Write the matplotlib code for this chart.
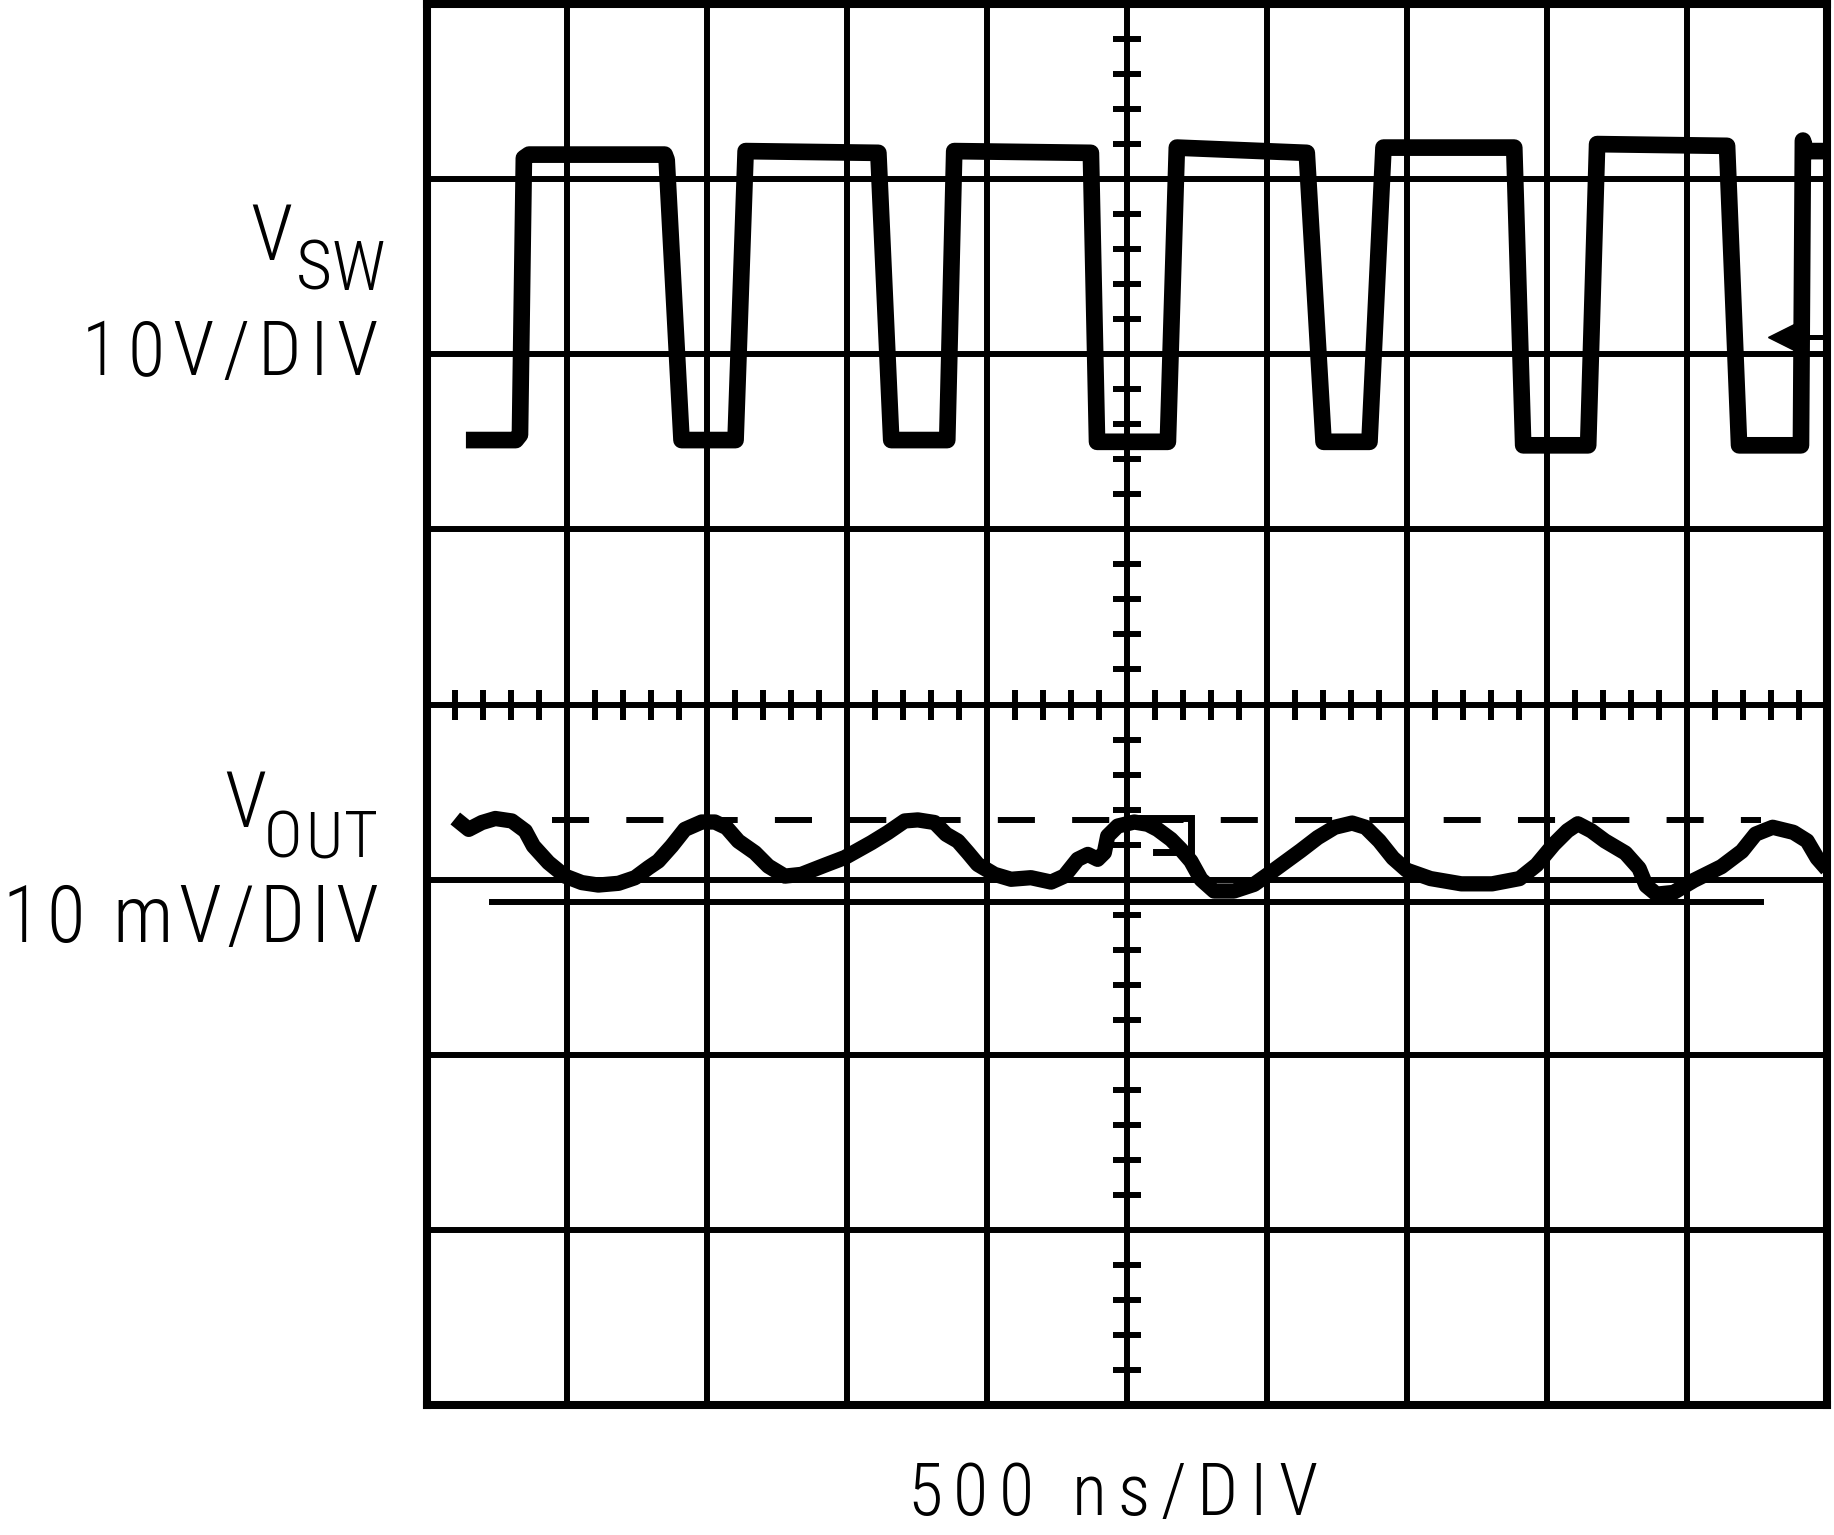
import matplotlib
matplotlib.use('Agg')
import matplotlib.pyplot as plt
from matplotlib import font_manager
import numpy as np

W, H, DPI = 1834, 1535, 100

# screen: 10 x 8 divisions, 500 ns/DIV
t_per_div = 500
n_xdiv, n_ydiv = 10, 8

# V_SW trace, 10 V/DIV (time in ns, volts)
vsw_t = [139, 317, 332, 346, 364, 849, 856, 909, 1102, 1138, 1612, 1658,
         1858, 1883, 2371, 2393, 2646, 2678, 3142, 3202, 3366, 3416, 3883, 3915,
         4147, 4179, 4643, 4686, 4907, 4914, 4925, 5000]
vsw_v = [0.1, 0.1, 0.4, 16.2, 16.4, 16.4, 16.1, 0.1, 0.1, 16.6, 16.5, 0.1,
         0.1, 16.6, 16.5, 0.0, 0.0, 16.8, 16.5, 0.0, 0.0, 16.8, 16.8, -0.2,
         -0.2, 17.0, 16.9, -0.2, -0.2, 17.2, 16.6, 16.6]
vsw_volts_per_div = 10
vsw_ground_div = 5.5
trigger_level_v = 6.0
trigger_t = 4840

# V_OUT ripple, 10 mV/DIV (time in ns, mV)
vout_t = [101, 149, 196, 244, 303, 351, 380, 434, 493, 553,
          612, 684, 743, 791, 826, 874, 921, 981, 1028, 1070,
          1112, 1171, 1219, 1278, 1337, 1420, 1492, 1587, 1646, 1706,
          1753, 1813, 1854, 1896, 1932, 1967, 2027, 2086, 2157, 2229,
          2276, 2324, 2360, 2395, 2419, 2431, 2467, 2526, 2574, 2609,
          2657, 2692, 2728, 2764, 2811, 2882, 2954, 3013, 3120, 3181,
          3242, 3304, 3352, 3401, 3450, 3499, 3584, 3694, 3804, 3902,
          3963, 4024, 4073, 4110, 4158, 4207, 4280, 4329, 4354, 4391,
          4452, 4525, 4623, 4696, 4745, 4806, 4880, 4929, 4965, 5000]
vout_mv = [4.79, 4.17, 4.56, 4.79, 4.65, 4.08, 3.22, 2.27, 1.50, 1.13,
           0.99, 1.09, 1.41, 1.98, 2.36, 3.22, 4.17, 4.59, 4.59, 4.27,
           3.50, 2.84, 2.07, 1.50, 1.60, 2.12, 2.56, 3.41, 3.99, 4.65,
           4.71, 4.56, 3.89, 3.50, 2.84, 2.17, 1.60, 1.32, 1.41, 1.16,
           1.50, 2.46, 2.74, 2.46, 2.84, 3.79, 4.36, 4.59, 4.46, 4.17,
           3.60, 3.03, 2.36, 1.32, 0.65, 0.65, 1.03, 1.70, 2.95, 3.70,
           4.29, 4.53, 4.29, 3.51, 2.53, 1.84, 1.36, 1.06, 1.06, 1.36,
           2.14, 3.31, 4.09, 4.49, 4.09, 3.51, 2.82, 1.94, 0.96, 0.47,
           0.57, 1.26, 2.04, 2.92, 3.90, 4.29, 4.00, 3.51, 2.53, 1.89]
vout_mv_per_div = 10
vout_zero_div = 2.87
# cursor lines (peak / valley) and the small marker glitch near the trigger
cursor_hi_mv, cursor_lo_mv = 4.7, 0.0
cursor_t = [231, 4766]
cursor_hi_start = 445
glitch_t = [2552, 2728, 2728, 2603]
glitch_mv = [4.8, 4.8, 2.85, 2.85]


def vsw_div(v):
    return vsw_ground_div + np.asarray(v) / vsw_volts_per_div


def vout_div(mv):
    return vout_zero_div + np.asarray(mv) / vout_mv_per_div


# prefer a narrow face, like the scope's lettering
fonts = font_manager.fontManager.ttflist
names = {f.name for f in fonts}
stretch = 'normal'
if 'Liberation Sans Narrow' in names:
    family = 'Liberation Sans Narrow'
elif 'Roboto Condensed' in names:
    family = 'Roboto Condensed'
elif any(f.name == 'DejaVu Sans' and 'condensed' in str(f.stretch) for f in fonts):
    family, stretch = 'DejaVu Sans', 'condensed'
else:
    family = 'Liberation Sans'
plt.rcParams['font.family'] = family
plt.rcParams['lines.scale_dashes'] = False

fig = plt.figure(figsize=(W / DPI, H / DPI), dpi=DPI)
ax = fig.add_axes([427 / W, 1 - 1405 / H, 1400 / W, 1401 / H])
ax.set_xlim(0, n_xdiv * t_per_div)
ax.set_ylim(0, n_ydiv)

grid_lw = 4.3
ax.set_xticks(np.arange(0, n_xdiv * t_per_div + 1, t_per_div))
ax.set_yticks(np.arange(0, n_ydiv + 1))
ax.grid(True, color='black', lw=grid_lw)
ax.tick_params(length=0, labelbottom=False, labelleft=False)
for sp in ax.spines.values():
    sp.set_linewidth(5.8)
    sp.set_zorder(5)

# graticule ticks on the centre cross
minor_y = [k / 5 for k in range(1, n_ydiv * 5) if k % 5]
minor_x = [k * t_per_div / 5 for k in range(1, n_xdiv * 5) if k % 5]
ax.plot(np.full(len(minor_y), n_xdiv * t_per_div / 2), minor_y, ls='none',
        marker='_', ms=20, mew=grid_lw, color='black')
ax.plot(minor_x, np.full(len(minor_x), n_ydiv / 2), ls='none',
        marker='|', ms=21, mew=grid_lw, color='black')

# cursors
ax.plot(cursor_t, vout_div([cursor_lo_mv] * 2), color='black', lw=grid_lw)
ax.plot([cursor_hi_start, cursor_t[1]], vout_div([cursor_hi_mv] * 2), color='black',
        lw=grid_lw, linestyle=(0, (26.7, 26.8)), dash_capstyle='butt')
ax.plot(glitch_t, vout_div(glitch_mv), color='black', lw=5, solid_joinstyle='miter')

# traces
ax.plot(vsw_t, vsw_div(vsw_v), color='black', lw=12, solid_joinstyle='round',
        solid_capstyle='butt', zorder=4)
ax.plot(vout_t, vout_div(vout_mv), color='black', lw=11, solid_joinstyle='round',
        solid_capstyle='butt', zorder=4)

# trigger level marker
trig_y = vsw_div(trigger_level_v)
ax.plot([trigger_t], [trig_y], marker='<', ms=19.5, color='black', zorder=4)
ax.plot([trigger_t + 45, n_xdiv * t_per_div], [trig_y, trig_y], color='black', lw=3.6)

renderer = fig.canvas.get_renderer()
weight = 'light'


def label(x, y, s, size, width, ha='right'):
    # the scope lettering is widely spaced: lay the glyphs out one by one
    glyphs = []
    for ch in s:
        t = fig.text(0, 0, ch, fontsize=size, fontweight=weight, fontstretch=stretch)
        w = t.get_window_extent(renderer).width if ch != ' ' else 0.3 * size
        glyphs.append((ch, w))
        t.remove()
    gap = max((width - sum(w for _, w in glyphs)) / (len(s) - 1), 0) if len(s) > 1 else 0
    x0 = x - width if ha == 'right' else x - width / 2
    for ch, w in glyphs:
        if ch != ' ':
            fig.text(x0 / W, 1 - y / H, ch, fontsize=size, fontweight=weight,
                     fontstretch=stretch, ha='left', va='baseline')
        x0 += w + gap


label(378, 290, 'SW', 50, 82)
label(288, 260, 'V', 56, 38)
label(378, 375, '10V/DIV', 55, 296)
label(378, 857, 'OUT', 47, 114)
label(255, 827, 'V', 56, 31)
label(378, 942, '10 mV/DIV', 57, 376)
label(1112, 1515, '500 ns/DIV', 52, 410, ha='center')

fig.savefig('out.png', dpi=DPI)
